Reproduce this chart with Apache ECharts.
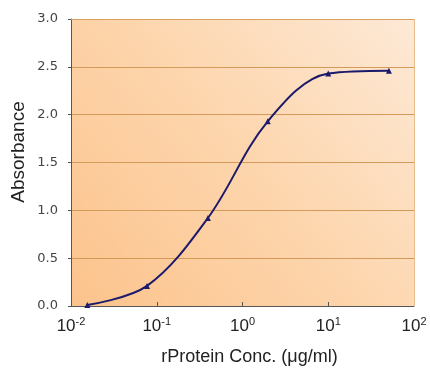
<!DOCTYPE html>
<html><head><meta charset="utf-8">
<script src="https://cdn.jsdelivr.net/npm/echarts@6/dist/echarts.min.js"></script>
<style>html,body{margin:0;padding:0;background:#fff}#c{width:430px;height:380px}</style>
</head><body><div id="c"></div>
<script>
const concentrations = [0.0155, 0.077, 0.395, 1.97, 10.0, 51];
const absorbance = [0.01, 0.21, 0.92, 1.93, 2.43, 2.46];
const yTicks = ['0.0','0.5','1.0','1.5','2.0','2.5','3.0'];
const xExponents = {'0.01':'-2','0.1':'-1','1':'0','10':'1','100':'2'};
const xTitle = 'rProtein Conc. (μg/ml)';
const yTitle = 'Absorbance';

const chart = echarts.init(document.getElementById('c'), null, {renderer:'canvas'});
const data = concentrations.map((c,i)=>[c, absorbance[i]]);
chart.setOption({
  animation:false,
  backgroundColor:'#ffffff',
  grid:{left:71, top:19, right:16, bottom:74, show:true, borderWidth:0,
    backgroundColor:{type:'linear', x:0, y:1, x2:1, y2:0, colorStops:[
      {offset:0, color:'#fcc38c'},{offset:0.5, color:'#fdd5ac'},{offset:1, color:'#fde9d6'}]}},
  xAxis:{type:'log', logBase:10, min:0.01, max:100,
    axisLine:{show:true, onZero:false, lineStyle:{color:'#555', width:1}},
    axisTick:{show:true, inside:true, length:4, lineStyle:{color:'#555'}},
    splitLine:{show:false},
    axisLabel:{margin:10, formatter:function(v){
        const k = String(+v.toPrecision(3));
        const e = xExponents[k] !== undefined ? xExponents[k] : Math.round(Math.log10(v)).toString();
        return '{b|10}{s|' + e + '}';
      },
      rich:{b:{fontFamily:'Liberation Sans', fontSize:17, color:'#222'},
            s:{fontFamily:'Liberation Sans', fontSize:11, color:'#222', verticalAlign:'top', padding:[0,0,9,0]}}}},
  yAxis:{type:'value', min:0, max:3, interval:0.5,
    axisLine:{show:true, lineStyle:{color:'#555', width:1}},
    axisTick:{show:true, inside:false, length:3, lineStyle:{color:'#555'}},
    splitLine:{show:true, lineStyle:{color:'#d49a5a', width:1}},
    axisLabel:{margin:13, fontFamily:'DejaVu Sans', fontSize:13, color:'#444',
      formatter:function(v,i){ return yTicks[i] !== undefined ? yTicks[i] : v.toFixed(1); }}},
  series:[{type:'line', data:data, smooth:0.35,
    lineStyle:{color:'#1c1a6b', width:2},
    symbol:'triangle', symbolSize:6, itemStyle:{color:'#1c1a6b'}}],
  graphic:[
    {type:'line', shape:{x1:414.5, y1:19, x2:414.5, y2:306}, style:{stroke:'#e6bc8a', lineWidth:1}, z:10},
    {type:'line', shape:{x1:71, y1:19.5, x2:414, y2:19.5}, style:{stroke:'#d9a060', lineWidth:1}, z:10},
    {type:'text', x:249.5, y:357, style:{text:xTitle, fontFamily:'Liberation Sans', fontSize:18, fill:'#222', align:'center', verticalAlign:'middle'}},
    {type:'text', x:19, y:152, rotation:Math.PI/2, style:{text:yTitle, fontFamily:'Liberation Sans', fontSize:19, fill:'#222', align:'center', verticalAlign:'middle'}}
  ]
});
</script></body></html>
